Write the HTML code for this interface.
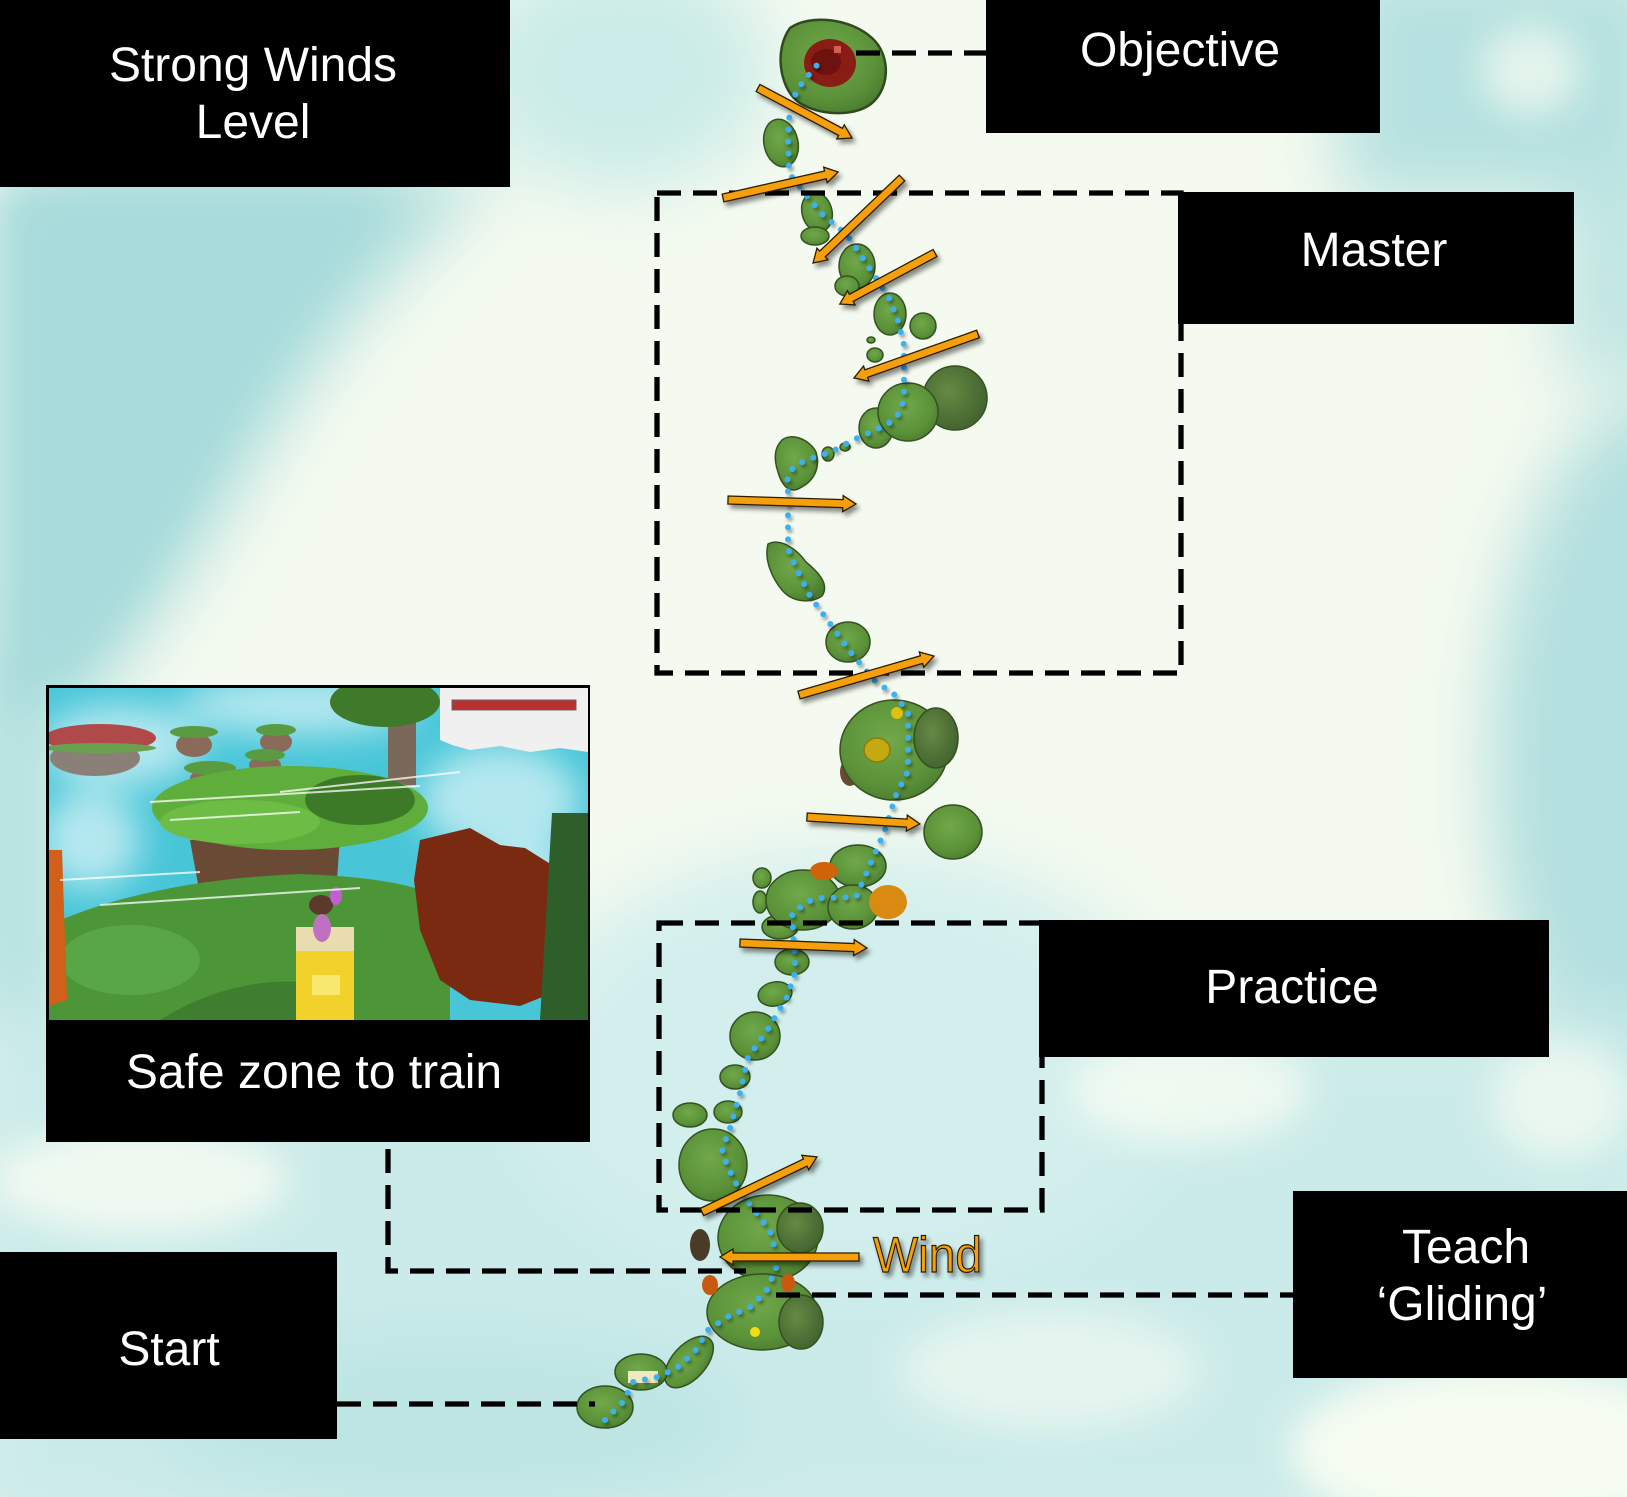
<!DOCTYPE html>
<html><head><meta charset="utf-8"><style>
html,body{margin:0;padding:0;background:#f4faef;}
svg{display:block;}
text{font-family:"Liberation Sans",Arial,sans-serif;}
</style></head><body>
<svg width="1627" height="1497" viewBox="0 0 1627 1497" xmlns="http://www.w3.org/2000/svg">
<defs>
<filter id="b40" x="-50%" y="-50%" width="200%" height="200%"><feGaussianBlur stdDeviation="35"/></filter>
<filter id="b20" x="-50%" y="-50%" width="200%" height="200%"><feGaussianBlur stdDeviation="18"/></filter>
<filter id="b6" x="-50%" y="-50%" width="200%" height="200%"><feGaussianBlur stdDeviation="5"/></filter>
<filter id="sh" x="-30%" y="-30%" width="160%" height="160%"><feDropShadow dx="3" dy="4" stdDeviation="2.5" flood-color="#000" flood-opacity="0.45"/></filter>
<filter id="dsh" x="-10%" y="-10%" width="120%" height="120%"><feDropShadow dx="2" dy="3" stdDeviation="1.5" flood-color="#000" flood-opacity="0.35"/></filter>
<radialGradient id="g1" cx="0.45" cy="0.4" r="0.65">
<stop offset="0" stop-color="#70a84a"/><stop offset="0.7" stop-color="#5b9239"/><stop offset="1" stop-color="#4a7a2f"/></radialGradient>
<radialGradient id="gf" cx="0.4" cy="0.4" r="0.7">
<stop offset="0" stop-color="#668a45"/><stop offset="1" stop-color="#3f5f2c"/></radialGradient>
<clipPath id="scr"><rect x="49" y="688" width="539" height="332"/></clipPath>
</defs>

<!-- background -->
<rect x="0" y="0" width="1627" height="1497" fill="#f4faef"/>
<g filter="url(#b40)">
<path d="M0,170 L500,170 C430,230 360,300 300,390 C250,460 200,560 130,650 C90,700 50,760 0,800 Z" fill="#a9dcdc"/>
<rect x="-40" y="650" width="110" height="620" fill="#b3e1e0"/>
<ellipse cx="620" cy="70" rx="150" ry="120" fill="#cbece8"/>
<rect x="1340" y="-40" width="330" height="240" fill="#b5e1e0"/>
<rect x="1560" y="180" width="120" height="200" fill="#bfe5e3"/>
<ellipse cx="1660" cy="760" rx="170" ry="360" fill="#b2dfdf"/>
<rect x="-40" y="1010" width="1720" height="540" fill="#cbebea"/>
<ellipse cx="850" cy="1060" rx="330" ry="210" fill="#d3efed"/>
<ellipse cx="450" cy="1420" rx="300" ry="90" fill="#bde5e4"/>
</g>
<g filter="url(#b20)">
<path d="M0,190 L400,190 C340,250 290,320 240,400 C200,470 160,560 100,640 C70,680 30,700 0,720 Z" fill="#a6dbdb" opacity="0.8"/>
</g>
<g filter="url(#b20)" fill="#f6fcf1">
<ellipse cx="1530" cy="70" rx="50" ry="45" opacity="0.7"/>
<ellipse cx="140" cy="1180" rx="150" ry="55" opacity="0.85"/>
<ellipse cx="1190" cy="1090" rx="120" ry="55" opacity="0.8"/>
<ellipse cx="1500" cy="1450" rx="210" ry="85"/>
<ellipse cx="1050" cy="1370" rx="150" ry="60" opacity="0.6"/>
<ellipse cx="1560" cy="1100" rx="70" ry="60" opacity="0.7"/>
</g>

<!-- islands -->
<g stroke="#33521f" stroke-width="1.5">
<path d="M790,28 C810,14 850,18 872,38 C892,56 890,92 868,106 C848,118 812,114 796,100 C780,86 774,50 790,28 Z" fill="url(#g1)" stroke="#2f4a1e" stroke-width="2.5"/>
<ellipse cx="830" cy="63" rx="26" ry="24" fill="#8a1c16" stroke="none"/>
<ellipse cx="826" cy="62" rx="15" ry="13" fill="#6e1210" stroke="none"/>
<rect x="834" y="46" width="7" height="7" fill="#d06050" stroke="none"/>
<ellipse cx="781" cy="143" rx="17" ry="24" transform="rotate(-12 781 143)" fill="url(#g1)"/>
<ellipse cx="817" cy="212" rx="15" ry="20" transform="rotate(-15 817 212)" fill="url(#g1)"/>
<ellipse cx="815" cy="236" rx="14" ry="9" fill="url(#g1)"/>
<ellipse cx="857" cy="266" rx="18" ry="22" fill="url(#g1)"/>
<ellipse cx="847" cy="286" rx="12" ry="10" fill="url(#g1)"/>
<ellipse cx="890" cy="314" rx="16" ry="21" fill="url(#g1)"/>
<ellipse cx="923" cy="326" rx="13" ry="13" fill="url(#g1)"/>
<ellipse cx="875" cy="355" rx="8" ry="7" fill="url(#g1)"/>
<ellipse cx="871" cy="340" rx="4" ry="3" fill="url(#g1)"/>
<ellipse cx="955" cy="398" rx="32" ry="32" fill="url(#gf)"/>
<ellipse cx="876" cy="428" rx="17" ry="20" fill="url(#g1)"/>
<ellipse cx="908" cy="412" rx="30" ry="29" fill="url(#g1)"/>
<ellipse cx="828" cy="454" rx="6" ry="7" fill="url(#g1)"/>
<ellipse cx="845" cy="447" rx="5" ry="4" fill="url(#g1)"/>
<path d="M782,440 C792,432 810,440 816,452 C820,466 816,480 800,488 C790,494 782,486 778,472 C774,460 774,448 782,440 Z" fill="url(#g1)"/>
<path d="M768,544 C780,538 796,548 806,562 C818,572 830,584 822,596 C810,604 792,602 782,590 C772,578 764,560 768,544 Z" fill="url(#g1)"/>
<ellipse cx="848" cy="642" rx="22" ry="20" fill="url(#g1)"/>
<ellipse cx="850" cy="772" rx="10" ry="14" fill="#6b4a30" stroke="none"/>
<ellipse cx="894" cy="750" rx="54" ry="50" fill="url(#g1)"/>
<ellipse cx="936" cy="738" rx="22" ry="30" fill="url(#gf)"/>
<ellipse cx="877" cy="750" rx="13" ry="12" fill="#c4aa10" stroke="#8a7a10"/>
<ellipse cx="897" cy="713" rx="6" ry="6" fill="#e0c010" stroke="none"/>
<ellipse cx="953" cy="832" rx="29" ry="27" fill="url(#g1)"/>
<ellipse cx="858" cy="866" rx="28" ry="21" fill="url(#g1)"/>
<ellipse cx="762" cy="878" rx="9" ry="10" fill="url(#g1)"/>
<ellipse cx="760" cy="902" rx="7" ry="11" fill="url(#g1)"/>
<ellipse cx="780" cy="927" rx="18" ry="12" fill="url(#g1)"/>
<ellipse cx="803" cy="900" rx="37" ry="30" fill="url(#g1)"/>
<ellipse cx="853" cy="907" rx="25" ry="22" fill="url(#g1)"/>
<ellipse cx="824" cy="871" rx="14" ry="9" fill="#d0620a" stroke="none"/>
<ellipse cx="888" cy="902" rx="19" ry="17" fill="#d98a10" stroke="none"/>
<ellipse cx="792" cy="962" rx="17" ry="13" fill="url(#g1)"/>
<ellipse cx="775" cy="994" rx="17" ry="12" transform="rotate(-10 775 994)" fill="url(#g1)"/>
<ellipse cx="755" cy="1036" rx="25" ry="24" fill="url(#g1)"/>
<ellipse cx="735" cy="1077" rx="15" ry="12" fill="url(#g1)"/>
<ellipse cx="690" cy="1115" rx="17" ry="12" fill="url(#g1)"/>
<ellipse cx="728" cy="1112" rx="14" ry="11" fill="url(#g1)"/>
<ellipse cx="713" cy="1165" rx="34" ry="36" fill="url(#g1)"/>
<ellipse cx="700" cy="1245" rx="10" ry="16" fill="#4a3a28" stroke="none"/>
<ellipse cx="768" cy="1238" rx="50" ry="43" fill="url(#g1)"/>
<ellipse cx="800" cy="1228" rx="23" ry="25" fill="url(#gf)"/>
<ellipse cx="762" cy="1312" rx="55" ry="38" fill="url(#g1)"/>
<ellipse cx="801" cy="1322" rx="22" ry="27" fill="url(#gf)"/>
<ellipse cx="710" cy="1285" rx="8" ry="10" fill="#c85a10" stroke="none"/>
<ellipse cx="788" cy="1283" rx="7" ry="9" fill="#c85a10" stroke="none"/>
<ellipse cx="755" cy="1332" rx="5" ry="5" fill="#f0e010" stroke="none"/>
<ellipse cx="689" cy="1362" rx="31" ry="17" transform="rotate(-48 689 1362)" fill="url(#g1)"/>
<ellipse cx="641" cy="1372" rx="26" ry="18" fill="url(#g1)"/>
<rect x="628" y="1371" width="30" height="12" fill="#f0e8c0" stroke="none"/>
<ellipse cx="605" cy="1407" rx="28" ry="21" fill="url(#g1)"/>
</g>

<!-- blue dotted path -->
<polyline filter="url(#dsh)" fill="none" stroke="#3cb0f0" stroke-width="6" stroke-linecap="round" stroke-dasharray="0 12"
points="605,1420 623,1402 633,1382 657,1377 677,1368 695,1351 708,1330 727,1317 750,1307 766,1292 776,1268 776,1253 770,1231 748,1202 735,1182 725,1160 722,1149 730,1128 740,1093 748,1057 754,1049 768,1029 787,997 795,973 795,961 792,913 809,901 820,898 856,897 866,874 885,830 896,795 907,773 908,760 908,712 895,695 875,681 852,654 810,596 799,574 789,552 788,541 788,493 787,481 790,471 798,464 809,459 831,452 853,440 886,425 896,418 902,406 904,394 904,345 898,321 889,298 876,278 856,248 849,238 840,229 822,214 807,196 792,177 789,167 788,143 789,119 794,97 799,87 807,77 822,59"/>

<!-- dashed rects & connectors -->
<g fill="none" stroke="#000" stroke-width="5.3" stroke-dasharray="24 12">
<path d="M657,193 H1181 V673 H657 Z"/>
<path d="M659,923 H1042 V1210 H659 Z"/>
<path d="M856,53 H986"/>
<path d="M388,1149 V1271 H746"/>
<path d="M776,1295 H1293"/>
<path d="M337,1404 H595"/>
</g>

<!-- arrows -->
<g fill="#f59f0a" stroke="#2a1c00" stroke-width="1.3" filter="url(#sh)">
<path d="M0,-4 H93.5 V-8 L106.5,0 L93.5,8 V4 H0 Z" transform="translate(758,88) rotate(28)"/>
<path d="M0,-4 H105 V-8 L118,0 L105,8 V4 H0 Z" transform="translate(723,198) rotate(-12.7)"/>
<path d="M0,-4 H110 V-8 L123,0 L110,8 V4 H0 Z" transform="translate(902,178) rotate(136.3)"/>
<path d="M0,-4 H95 V-8 L108,0 L95,8 V4 H0 Z" transform="translate(935,253) rotate(151.8)"/>
<path d="M0,-4 H118.6 V-8 L131.6,0 L118.6,8 V4 H0 Z" transform="translate(978,334) rotate(160.5)"/>
<path d="M0,-4 H115 V-8 L128,0 L115,8 V4 H0 Z" transform="translate(728,500) rotate(1.8)"/>
<path d="M0,-4 H127.5 V-8 L140.5,0 L127.5,8 V4 H0 Z" transform="translate(799,695) rotate(-16.1)"/>
<path d="M0,-4 H100 V-8 L113,0 L100,8 V4 H0 Z" transform="translate(807,817) rotate(3.5)"/>
<path d="M0,-4 H114 V-8 L127,0 L114,8 V4 H0 Z" transform="translate(740,943) rotate(2.3)"/>
<path d="M0,-4 H114.5 V-8 L127.5,0 L114.5,8 V4 H0 Z" transform="translate(702,1212) rotate(-25.6)"/>
<path d="M0,-4 H126 V-8 L139,0 L126,8 V4 H0 Z" transform="translate(859,1257) rotate(180)"/>
</g>
<text x="873" y="1272" font-size="50" textLength="109" lengthAdjust="spacingAndGlyphs" fill="#f5a00a" stroke="#2a1a00" stroke-width="1.2" filter="url(#sh)">Wind</text>

<!-- black label boxes -->
<g fill="#000">
<rect x="0" y="0" width="510" height="187"/>
<rect x="986" y="0" width="394" height="133"/>
<rect x="1178" y="192" width="396" height="132"/>
<rect x="1039" y="920" width="510" height="137"/>
<rect x="1293" y="1191" width="334" height="187"/>
<rect x="0" y="1252" width="337" height="187"/>
<rect x="46" y="1020" width="544" height="122"/>
<rect x="46" y="685" width="544" height="336"/>
</g>

<!-- screenshot -->
<g clip-path="url(#scr)">
<rect x="49" y="688" width="539" height="332" fill="#48c6d8"/>
<g filter="url(#b20)" fill="#ffffff" opacity="0.6">
<ellipse cx="120" cy="745" rx="80" ry="40"/>
<ellipse cx="300" cy="705" rx="120" ry="30"/>
<ellipse cx="500" cy="800" rx="80" ry="55"/>
<ellipse cx="90" cy="840" rx="50" ry="50"/>
<ellipse cx="530" cy="890" rx="50" ry="50"/>
</g>
<ellipse cx="95" cy="758" rx="45" ry="18" fill="#8a8078"/>
<ellipse cx="100" cy="738" rx="56" ry="14" fill="#b04a4a"/>
<ellipse cx="100" cy="748" rx="56" ry="5" fill="#6aa050"/>
<ellipse cx="194" cy="745" rx="18" ry="12" fill="#8a6a58"/><ellipse cx="194" cy="732" rx="24" ry="6" fill="#5a9a40"/>
<ellipse cx="276" cy="742" rx="16" ry="11" fill="#8a6a58"/><ellipse cx="276" cy="730" rx="20" ry="6" fill="#5a9a40"/>
<ellipse cx="265" cy="765" rx="16" ry="9" fill="#8a6a58"/><ellipse cx="265" cy="755" rx="20" ry="6" fill="#5a9a40"/>
<ellipse cx="210" cy="778" rx="20" ry="9" fill="#8a6a58"/><ellipse cx="210" cy="768" rx="26" ry="7" fill="#5a9a40"/>
<rect x="388" y="715" width="28" height="70" fill="#7a6858"/>
<ellipse cx="385" cy="702" rx="55" ry="25" fill="#3f7a2a"/>
<path d="M440,688 H588 V752 L560,748 L530,752 L500,746 L470,750 L452,745 L440,740 Z" fill="#f0f0f0"/>
<rect x="452" y="700" width="124" height="10" fill="#b83030" stroke="#666" stroke-width="1"/>
<path d="M190,840 L340,838 L336,893 L200,895 Z" fill="#6b4a35"/>
<ellipse cx="290" cy="808" rx="138" ry="42" fill="#5fae3c"/>
<ellipse cx="240" cy="822" rx="80" ry="22" fill="#6cbc45"/>
<ellipse cx="360" cy="800" rx="55" ry="25" fill="#3d7a28"/>
<path d="M49,1020 L49,925 Q150,880 300,874 Q420,878 450,905 L450,1020 Z" fill="#4c9638"/>
<path d="M160,1020 Q240,970 330,985 L330,1020 Z" fill="#3e7e2e"/>
<ellipse cx="130" cy="960" rx="70" ry="35" fill="#58a645"/>
<path d="M420,840 L470,828 L500,845 L525,848 L560,870 L583,900 L580,950 L560,990 L520,1006 L470,1000 L440,980 L420,930 L414,880 Z" fill="#7b2a12"/>
<path d="M552,813 H588 V1020 H540 Z" fill="#2e5e2a"/>
<path d="M49,850 H62 L67,1000 L49,1006 Z" fill="#d0601a"/>
<rect x="296" y="948" width="58" height="72" fill="#f2d12a"/>
<rect x="296" y="927" width="58" height="24" fill="#e8dcb0"/>
<rect x="312" y="975" width="28" height="20" fill="#f8e870"/>
<ellipse cx="321" cy="905" rx="12" ry="10" fill="#5a3a2a"/>
<ellipse cx="336" cy="896" rx="6" ry="9" fill="#c060d0"/>
<ellipse cx="322" cy="928" rx="9" ry="14" fill="#c070c0"/>
<g stroke="#ffffff" stroke-width="2" opacity="0.75">
<line x1="150" y1="802" x2="420" y2="786"/>
<line x1="100" y1="905" x2="360" y2="888"/>
<line x1="280" y1="792" x2="460" y2="772"/>
<line x1="170" y1="820" x2="300" y2="812"/>
<line x1="60" y1="880" x2="200" y2="872"/>
</g>
</g>

<!-- labels -->
<g fill="#fff" font-size="48" text-anchor="middle">
<text x="253" y="81">Strong Winds</text>
<text x="253" y="138">Level</text>
<text x="1180" y="66">Objective</text>
<text x="1374" y="266">Master</text>
<text x="1292" y="1003">Practice</text>
<text x="1466" y="1263">Teach</text>
<text x="1462" y="1320">‘Gliding’</text>
<text x="169" y="1365">Start</text>
<text x="314" y="1088">Safe zone to train</text>
</g>
</svg>
</body></html>
